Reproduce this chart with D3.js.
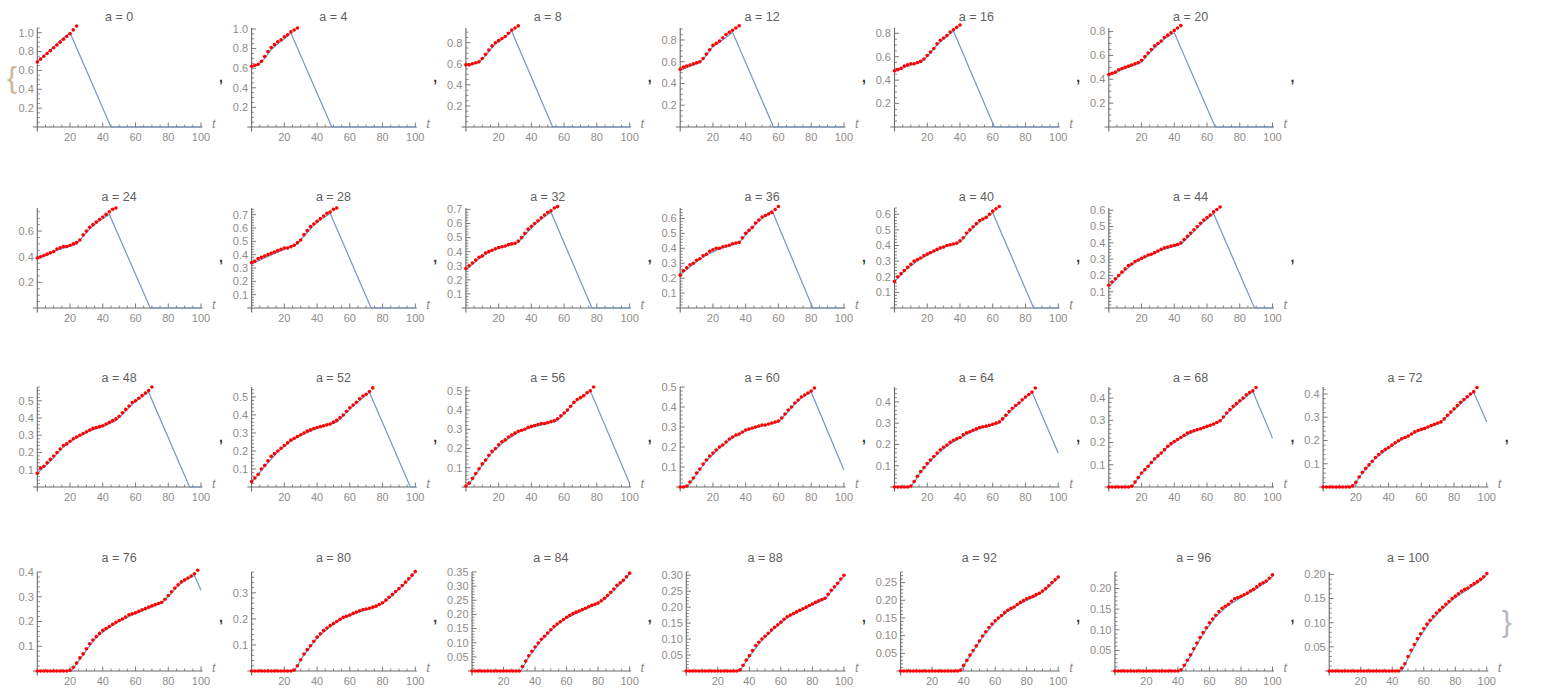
<!DOCTYPE html>
<html>
<head>
<meta charset="utf-8">
<script src="https://cdn.jsdelivr.net/npm/d3@7"></script>
<style>
  body { margin: 0; background: #fff; }
  svg { display: block; font-family: "Liberation Sans", Arial, sans-serif; }
</style>
</head>
<body>
<div class="chart"></div>
<script>
// one panel per value of a
const aValues = [0, 4, 8, 12, 16, 20, 24, 28, 32, 36, 40, 44, 48, 52, 56, 60, 64, 68, 72, 76, 80, 84, 88, 92, 96, 100]
const yTops = [1.05, 1.01, 0.94, 0.91, 0.845, 0.83, 0.78, 0.75, 0.71, 0.67, 0.64, 0.614, 0.58, 0.555, 0.52, 0.50, 0.47, 0.45, 0.43, 0.40, 0.38, 0.35, 0.31, 0.28, 0.24, 0.205]
const yTickSteps = [0.2, 0.2, 0.2, 0.2, 0.2, 0.2, 0.2, 0.1, 0.1, 0.1, 0.1, 0.1, 0.1, 0.1, 0.1, 0.1, 0.1, 0.1, 0.1, 0.1, 0.1, 0.05, 0.05, 0.05, 0.05, 0.05]
const xTickValues = [20, 40, 60, 80, 100]
const rowSizes = [6, 6, 7, 7]

// red points, one value every 2 units of t starting at t = 0
const redSeries = [
  [0.69,0.72,0.75,0.78,0.81,0.84,0.87,0.90,0.93,0.96,0.99,1.03,1.07],
  [0.62,0.63,0.64,0.67,0.72,0.77,0.81,0.84,0.87,0.89,0.92,0.94,0.97,0.99,1.01],
  [0.59,0.59,0.60,0.61,0.62,0.65,0.69,0.73,0.77,0.80,0.82,0.84,0.86,0.89,0.92,0.94,0.96],
  [0.53,0.55,0.56,0.57,0.58,0.59,0.60,0.63,0.67,0.71,0.75,0.77,0.79,0.82,0.85,0.87,0.89,0.91,0.93],
  [0.48,0.49,0.50,0.52,0.53,0.54,0.54,0.55,0.56,0.58,0.61,0.64,0.67,0.71,0.74,0.76,0.78,0.81,0.83,0.85,0.87],
  [0.44,0.45,0.46,0.48,0.49,0.50,0.51,0.52,0.53,0.54,0.56,0.59,0.62,0.65,0.68,0.70,0.72,0.75,0.77,0.79,0.81,0.83,0.85],
  [0.39,0.40,0.41,0.42,0.43,0.44,0.46,0.47,0.48,0.48,0.49,0.50,0.51,0.53,0.57,0.60,0.63,0.65,0.67,0.69,0.71,0.73,0.75,0.77,0.78],
  [0.34,0.35,0.37,0.38,0.39,0.40,0.41,0.42,0.43,0.44,0.45,0.45,0.46,0.47,0.49,0.51,0.55,0.58,0.61,0.63,0.65,0.67,0.69,0.71,0.72,0.74,0.75],
  [0.28,0.30,0.32,0.34,0.36,0.37,0.39,0.40,0.41,0.42,0.43,0.435,0.44,0.45,0.455,0.46,0.475,0.50,0.53,0.56,0.58,0.60,0.62,0.64,0.66,0.68,0.69,0.71,0.72],
  [0.22,0.25,0.27,0.29,0.30,0.32,0.33,0.35,0.36,0.38,0.39,0.40,0.40,0.41,0.415,0.42,0.43,0.435,0.44,0.47,0.50,0.52,0.54,0.57,0.59,0.61,0.62,0.63,0.64,0.66,0.68],
  [0.17,0.20,0.22,0.24,0.26,0.28,0.30,0.31,0.32,0.335,0.345,0.355,0.365,0.375,0.385,0.39,0.40,0.405,0.41,0.415,0.43,0.45,0.48,0.50,0.52,0.54,0.56,0.57,0.58,0.60,0.62,0.635,0.65],
  [0.14,0.16,0.18,0.20,0.22,0.24,0.26,0.27,0.285,0.295,0.305,0.315,0.325,0.33,0.34,0.35,0.36,0.37,0.375,0.38,0.385,0.39,0.40,0.42,0.44,0.46,0.48,0.50,0.52,0.54,0.555,0.57,0.59,0.605,0.62],
  [0.08,0.11,0.12,0.14,0.16,0.18,0.20,0.22,0.24,0.25,0.265,0.28,0.29,0.30,0.31,0.32,0.33,0.34,0.345,0.35,0.355,0.365,0.375,0.385,0.395,0.41,0.43,0.45,0.47,0.49,0.50,0.515,0.53,0.545,0.56,0.58],
  [0.03,0.05,0.07,0.10,0.12,0.145,0.17,0.185,0.20,0.215,0.23,0.245,0.26,0.27,0.28,0.29,0.30,0.31,0.317,0.325,0.33,0.335,0.34,0.345,0.35,0.36,0.37,0.385,0.40,0.42,0.44,0.455,0.47,0.49,0.505,0.515,0.53,0.55],
  [0.005,0.02,0.045,0.07,0.095,0.12,0.14,0.165,0.185,0.20,0.22,0.235,0.245,0.26,0.27,0.28,0.29,0.295,0.30,0.31,0.315,0.32,0.325,0.33,0.33,0.335,0.34,0.345,0.355,0.37,0.385,0.40,0.42,0.44,0.455,0.465,0.475,0.49,0.50,0.52],
  [0,0,0.005,0.025,0.045,0.07,0.09,0.115,0.135,0.155,0.17,0.185,0.20,0.21,0.225,0.24,0.25,0.26,0.265,0.275,0.285,0.29,0.295,0.30,0.305,0.31,0.31,0.315,0.32,0.325,0.33,0.345,0.365,0.385,0.40,0.42,0.435,0.45,0.46,0.47,0.48,0.495],
  [0,0,0,0,0, 0.005,0.026,0.05,0.073,0.092,0.11,0.127,0.143,0.16,0.175,0.187,0.197,0.21,0.22,0.227,0.233,0.245,0.255,0.26,0.267,0.273,0.28,0.283,0.286,0.29,0.295,0.30,0.306,0.32,0.337,0.355,0.37,0.383,0.395,0.41,0.423,0.435,0.446,0.465],
  [0,0,0,0,0, 0,0, 0.004,0.022,0.043,0.063,0.078,0.093,0.11,0.127,0.14,0.153,0.168,0.183,0.195,0.205,0.214,0.223,0.233,0.243,0.248,0.253,0.258,0.262,0.268,0.273,0.278,0.283,0.29,0.298,0.315,0.333,0.348,0.363,0.375,0.388,0.40,0.415,0.425,0.433,0.448],
  [0,0,0,0,0, 0,0,0,0, 0.005,0.02,0.043,0.063,0.08,0.095,0.111,0.127,0.14,0.152,0.162,0.17,0.18,0.19,0.199,0.207,0.213,0.219,0.228,0.237,0.243,0.248,0.252,0.258,0.264,0.27,0.275,0.28,0.293,0.308,0.322,0.336,0.35,0.364,0.376,0.388,0.40,0.41,0.428],
  [0,0,0,0,0, 0,0,0,0,0, 0.003,0.015,0.032,0.053,0.069,0.09,0.11,0.125,0.139,0.152,0.164,0.172,0.18,0.189,0.197,0.204,0.21,0.218,0.227,0.231,0.235,0.241,0.247,0.252,0.258,0.263,0.268,0.273,0.278,0.29,0.305,0.32,0.335,0.348,0.36,0.368,0.376,0.384,0.393,0.407],
  [0,0,0,0,0, 0,0,0,0,0, 0,0,0, 0.004,0.02,0.043,0.065,0.082,0.097,0.114,0.13,0.143,0.155,0.165,0.174,0.182,0.19,0.198,0.206,0.21,0.215,0.221,0.226,0.231,0.236,0.238,0.241,0.245,0.249,0.255,0.262,0.272,0.283,0.294,0.305,0.316,0.328,0.341,0.354,0.368,0.382],
  [0,0,0,0,0, 0,0,0,0,0, 0,0,0,0,0, 0, 0.016,0.035,0.054,0.07,0.085,0.099,0.112,0.123,0.134,0.146,0.157,0.166,0.174,0.182,0.19,0.197,0.203,0.208,0.212,0.217,0.222,0.227,0.232,0.236,0.24,0.248,0.257,0.267,0.278,0.29,0.303,0.312,0.321,0.333,0.346],
  [0,0,0,0,0, 0,0,0,0,0, 0,0,0,0,0, 0,0, 0.004,0.018,0.034,0.048,0.064,0.08,0.09,0.10,0.109,0.118,0.128,0.137,0.145,0.153,0.162,0.17,0.175,0.18,0.185,0.19,0.195,0.20,0.205,0.21,0.215,0.22,0.224,0.228,0.24,0.253,0.264,0.275,0.288,0.30],
  [0,0,0,0,0, 0,0,0,0,0, 0,0,0,0,0, 0,0,0,0, 0.003,0.016,0.03,0.045,0.058,0.071,0.085,0.099,0.111,0.123,0.133,0.142,0.15,0.157,0.165,0.172,0.177,0.181,0.188,0.194,0.199,0.204,0.208,0.211,0.216,0.22,0.226,0.233,0.241,0.25,0.258,0.266],
  [0,0,0,0,0, 0,0,0,0,0, 0,0,0,0,0, 0,0,0,0,0, 0, 0.003,0.014,0.026,0.039,0.054,0.068,0.081,0.093,0.105,0.117,0.126,0.135,0.144,0.152,0.157,0.162,0.169,0.175,0.178,0.181,0.185,0.189,0.194,0.198,0.204,0.21,0.214,0.218,0.225,0.233],
  [0,0,0,0,0, 0,0,0,0,0, 0,0,0,0,0, 0,0,0,0,0, 0,0,0, 0.006,0.015,0.03,0.043,0.055,0.067,0.077,0.088,0.097,0.105,0.113,0.12,0.126,0.132,0.138,0.144,0.15,0.155,0.16,0.165,0.169,0.172,0.177,0.181,0.185,0.19,0.195,0.202]
]

// blue curve, [t, value] vertices
const blueSeries = [
  [[0,0.69],[5,0.77],[10,0.85],[15,0.93],[20,1.0],[45,0],[100,0]],
  [[0,0.62],[4,0.63],[8,0.70],[12,0.79],[16,0.85],[20,0.90],[24,0.96],[49,0],[100,0]],
  [[0,0.58],[8,0.61],[12,0.68],[18,0.79],[22,0.83],[28,0.91],[53,0],[100,0]],
  [[0,0.52],[6,0.56],[12,0.59],[16,0.66],[20,0.74],[24,0.78],[32,0.87],[57,0],[100,0]],
  [[0,0.47],[8,0.52],[16,0.55],[20,0.60],[26,0.70],[30,0.75],[36,0.82],[61,0],[100,0]],
  [[0,0.43],[10,0.49],[20,0.54],[24,0.61],[30,0.69],[34,0.74],[40,0.79],[65,0],[100,0]],
  [[0,0.38],[12,0.45],[24,0.50],[28,0.56],[34,0.64],[38,0.68],[44,0.73],[69,0],[100,0]],
  [[0,0.33],[14,0.41],[28,0.48],[32,0.54],[38,0.62],[42,0.66],[48,0.71],[73,0],[100,0]],
  [[0,0.27],[8,0.35],[16,0.41],[24,0.435],[32,0.465],[36,0.52],[42,0.59],[46,0.63],[52,0.68],[77,0],[100,0]],
  [[0,0.22],[8,0.295],[16,0.355],[24,0.395],[36,0.435],[40,0.49],[46,0.56],[50,0.60],[56,0.655],[81,0],[100,0]],
  [[0,0.17],[8,0.255],[16,0.315],[24,0.36],[32,0.395],[40,0.42],[44,0.47],[50,0.535],[54,0.565],[60,0.61],[85,0],[100,0]],
  [[0,0.13],[8,0.215],[16,0.28],[24,0.32],[32,0.355],[44,0.39],[48,0.43],[54,0.49],[58,0.53],[64,0.58],[89,0],[100,0]],
  [[0,0.08],[8,0.15],[16,0.235],[24,0.285],[32,0.325],[40,0.35],[48,0.385],[52,0.42],[58,0.48],[62,0.51],[68,0.55],[93,0],[100,0]],
  [[0,0.025],[8,0.115],[16,0.195],[24,0.255],[32,0.295],[40,0.325],[52,0.36],[56,0.395],[62,0.45],[66,0.48],[72,0.525],[97,0],[100,0]],
  [[0,0],[4,0.04],[8,0.09],[16,0.18],[24,0.24],[32,0.285],[40,0.31],[48,0.325],[56,0.345],[60,0.38],[66,0.44],[70,0.46],[76,0.50],[100,0.02]],
  [[0,0],[4,0],[8,0.04],[16,0.13],[24,0.195],[32,0.245],[40,0.28],[48,0.30],[60,0.325],[64,0.36],[70,0.415],[74,0.445],[80,0.475],[100,0.085]],
  [[0,0],[10,0],[16,0.07],[24,0.14],[32,0.193],[40,0.23],[48,0.263],[56,0.283],[64,0.302],[68,0.332],[74,0.38],[78,0.405],[84,0.446],[100,0.16]],
  [[0,0],[14,0],[20,0.06],[28,0.125],[36,0.18],[44,0.22],[52,0.25],[60,0.27],[68,0.295],[72,0.33],[78,0.37],[82,0.395],[88,0.43],[100,0.22]],
  [[0,0],[18,0],[24,0.06],[32,0.124],[40,0.167],[48,0.204],[56,0.233],[64,0.255],[72,0.277],[76,0.305],[82,0.345],[86,0.372],[92,0.407],[100,0.28]],
  [[0,0],[21,0],[28,0.066],[36,0.136],[44,0.177],[52,0.207],[60,0.232],[68,0.255],[76,0.275],[80,0.30],[86,0.345],[90,0.365],[96,0.386],[100,0.326]],
  [[0,0],[26,0],[32,0.062],[40,0.127],[48,0.171],[56,0.203],[64,0.223],[72,0.238],[80,0.258],[86,0.29],[92,0.325],[100,0.378]],
  [[0,0],[31,0],[36,0.05],[44,0.108],[52,0.154],[60,0.187],[68,0.209],[76,0.229],[84,0.253],[90,0.285],[96,0.318],[100,0.343]],
  [[0,0],[34,0],[40,0.045],[48,0.097],[56,0.134],[64,0.167],[72,0.187],[80,0.207],[88,0.225],[94,0.26],[100,0.297]],
  [[0,0],[38,0],[44,0.042],[52,0.096],[60,0.139],[68,0.169],[76,0.191],[84,0.208],[92,0.23],[100,0.263]],
  [[0,0],[42,0],[48,0.036],[56,0.09],[64,0.132],[72,0.159],[80,0.178],[88,0.195],[96,0.215],[100,0.23]],
  [[0,0],[46,0],[50,0.026],[56,0.063],[64,0.102],[72,0.129],[80,0.152],[88,0.169],[96,0.187],[100,0.199]]
]

// layout
const width = 1558, height = 695
const rowZero = [127, 308, 487, 671]
const rowTop = [28, 208, 387, 572]
const rowTitle = [17, 197, 378, 558]
const rowComma = [81, 261, 441, 621]
const colRight0 = 201, colPitch = 214.3, boxWidth = 179

const axisColor = '#6a6a6a', labelColor = '#8f8b88'
const blue = '#7393c8'

const svg = d3.select('.chart').append('svg')
    .attr('width', width)
    .attr('height', height)

const probe = svg.append('text').attr('font-size', 11).style('visibility', 'hidden')
function textWidth(s) { probe.text(s); return probe.node().getComputedTextLength() }

function drawPanel(i, r, c) {
    const right = colRight0 + colPitch * c
    const step = yTickSteps[i]
    const fmt = d3.format(step < 0.1 ? '.2f' : '.1f')
    const majors = d3.range(1, Math.floor(yTops[i] / step + 1e-6) + 1).map(k => +(k * step).toFixed(2))
    const labelW = d3.max(majors, v => textWidth(fmt(v)))
    const left = right - boxWidth + labelW

    const x = d3.scaleLinear().domain([0, 100]).range([left, right])
    const y = d3.scaleLinear().domain([0, yTops[i]]).range([rowZero[r], rowTop[r]])

    const g = svg.append('g').attr('class', 'panel')

    // minor ticks
    const minorStep = step === 0.2 ? 0.05 : step / 5
    const minors = d3.range(1, Math.floor(yTops[i] / minorStep + 1e-6) + 1)
        .map(k => k * minorStep)
        .filter(v => Math.abs(v / step - Math.round(v / step)) > 1e-6)
    g.selectAll('.ymin').data(minors).enter().append('line')
        .attr('x1', left).attr('x2', left + 2.5)
        .attr('y1', d => y(d)).attr('y2', d => y(d))
        .attr('stroke', axisColor).attr('stroke-width', 0.8)
    g.selectAll('.ymaj').data(majors).enter().append('line')
        .attr('x1', left).attr('x2', left + 4.5)
        .attr('y1', d => y(d)).attr('y2', d => y(d))
        .attr('stroke', axisColor).attr('stroke-width', 0.9)
    g.selectAll('.ylab').data(majors).enter().append('text')
        .attr('x', left - 3.5).attr('y', d => y(d))
        .attr('dy', '0.35em')
        .attr('text-anchor', 'end')
        .attr('font-size', 11)
        .attr('fill', labelColor)
        .text(d => fmt(d))

    const xMinors = d3.range(5, 100, 5).filter(v => v % 20 !== 0)
    g.selectAll('.xmin').data(xMinors).enter().append('line')
        .attr('x1', d => x(d)).attr('x2', d => x(d))
        .attr('y1', rowZero[r]).attr('y2', rowZero[r] - 2.5)
        .attr('stroke', axisColor).attr('stroke-width', 0.8)
    g.selectAll('.xmaj').data(xTickValues).enter().append('line')
        .attr('x1', d => x(d)).attr('x2', d => x(d))
        .attr('y1', rowZero[r]).attr('y2', rowZero[r] - 4.5)
        .attr('stroke', axisColor).attr('stroke-width', 0.9)
    g.selectAll('.xlab').data(xTickValues).enter().append('text')
        .attr('x', d => x(d)).attr('y', rowZero[r] + 14)
        .attr('text-anchor', 'middle')
        .attr('font-size', 11)
        .attr('fill', labelColor)
        .text(d => d)

    // axes
    g.append('line')
        .attr('x1', x(-2.6)).attr('x2', x(100) + 1.5)
        .attr('y1', rowZero[r]).attr('y2', rowZero[r])
        .attr('stroke', axisColor).attr('stroke-width', 1.1)
    g.append('line')
        .attr('x1', left).attr('x2', left)
        .attr('y1', rowZero[r] + 4.5).attr('y2', y(yTops[i]))
        .attr('stroke', axisColor).attr('stroke-width', 1.1)

    g.append('text')
        .attr('x', right + 11).attr('y', rowZero[r] + 1)
        .attr('font-size', 13).attr('font-style', 'italic')
        .attr('fill', labelColor)
        .text('t')

    g.append('text')
        .attr('x', (left + right) / 2).attr('y', rowTitle[r])
        .attr('dy', '0.35em')
        .attr('text-anchor', 'middle')
        .attr('font-size', 12.5)
        .attr('fill', '#5f5f5f')
        .text('a = ' + aValues[i])

    // blue curve
    const line = d3.line().x(d => x(d[0])).y(d => y(d[1]))
    g.append('path')
        .attr('d', line(blueSeries[i]))
        .attr('fill', 'none')
        .attr('stroke', blue)
        .attr('stroke-width', 1.2)

    // red points
    g.selectAll('.pt').data(redSeries[i]).enter().append('circle')
        .attr('cx', (d, k) => x(2 * k))
        .attr('cy', d => y(d))
        .attr('r', 1.8)
        .attr('fill', '#ff0000')

    // list separator
    const last = i === aValues.length - 1
    g.append('text')
        .attr('x', right + 20).attr('y', last ? rowComma[r] : rowComma[r] + 1)
        .attr('dy', last ? '0.35em' : 0)
        .attr('text-anchor', 'middle')
        .attr('font-size', last ? 30 : 14)
        .attr('font-weight', last ? 'normal' : 'bold')
        .attr('fill', last ? '#b3b6c0' : '#333')
        .text(last ? '}' : ',')
}

let idx = 0
rowSizes.forEach((n, r) => {
    for (let c = 0; c < n; c++, idx++) drawPanel(idx, r, c)
})

svg.append('text')
    .attr('x', 12).attr('y', 77)
    .attr('dy', '0.35em')
    .attr('text-anchor', 'middle')
    .attr('font-size', 30)
    .attr('fill', '#cdb898')
    .text('{')
</script>
</body>
</html>
